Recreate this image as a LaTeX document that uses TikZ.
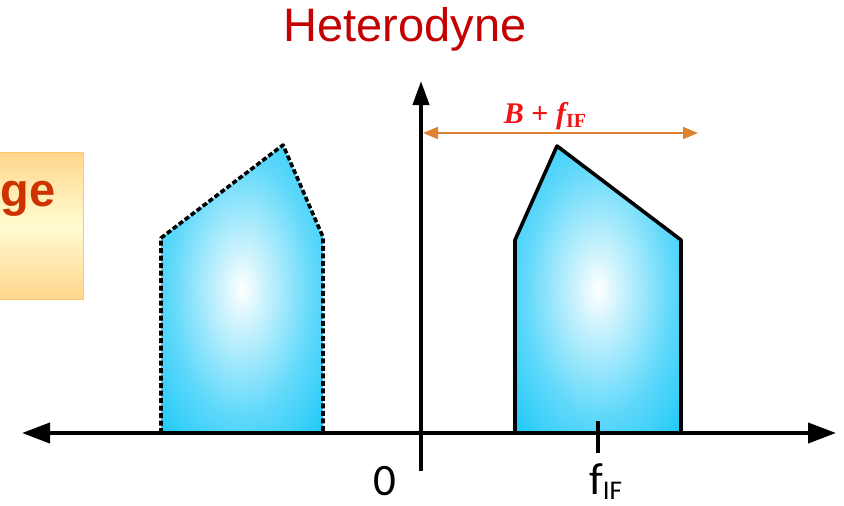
\documentclass[tikz,border=0pt]{standalone}
\usepackage{fontspec}
\setmainfont{Liberation Sans}
\newfontfamily\carlito{Carlito}
\newfontfamily\tnr{Liberation Serif}
\usetikzlibrary{arrows.meta}
\definecolor{titlered}{RGB}{196,0,0}
\definecolor{gered}{RGB}{204,51,0}
\definecolor{boxorange}{RGB}{255,214,140}
\definecolor{boxyellow}{RGB}{255,252,208}
\definecolor{boxedge}{RGB}{255,200,110}
\definecolor{cyanfill}{RGB}{28,200,248}
\definecolor{arrorange}{RGB}{222,130,50}
\definecolor{labred}{RGB}{240,20,20}
\pgfdeclareradialshading{glow}{\pgfpoint{0bp}{0bp}}{color(0bp)=(white); color(6bp)=(cyanfill!20); color(22bp)=(cyanfill!70); color(36bp)=(cyanfill); color(50bp)=(cyanfill)}
\tikzset{
  band/.style={shading=glow, line width=3.6pt, line join=round},
  axis/.style={line width=4pt, -{Triangle[length=28pt,width=20pt]}},
  lbl/.style={inner sep=0pt, font=\carlito\fontsize{45}{45}\selectfont},
}
\begin{document}
\begin{tikzpicture}[x=1pt,y=-1pt]
\useasboundingbox (0,0) rectangle (844,506);
% title
\node[inner sep=0pt, anchor=base, text=titlered, font=\fontsize{47}{47}\selectfont] (title) at (405,41) {Heterodyne};
% left box
\shade[top color=boxorange, bottom color=boxorange, middle color=boxyellow, draw=boxedge, line width=1pt] (-5,152) rectangle (83,299);
\node[inner sep=0pt, anchor=base east, text=gered, font=\bfseries\fontsize{47}{47}\selectfont] (ge) at (56,206) {ge};
% bands
\shade[band, draw=black, dash pattern=on 5pt off 2.5pt] (161,433) -- (161,238) -- (283,145) -- (323,237) -- (323,433) -- cycle;
\shade[band, draw=black] (515,433) -- (515,240) -- (557,146) -- (681,240) -- (681,433) -- cycle;
% axes
\coordinate (xl) at (22,433);
\coordinate (xr) at (836,433);
\coordinate (yb) at (421,471);
\coordinate (yt) at (421,81);
\coordinate (mid) at (429,433);
\draw[axis] (mid) -- (xl);
\draw[axis] (mid) -- (xr);
\draw[line width=4pt, -{Triangle[length=24pt,width=16pt]}] (yb) -- (yt);
% tick f_IF
\coordinate (tt) at (598,421);
\coordinate (tb) at (598,453);
\draw[line width=4pt] (tt) -- (tb);
% labels
\node[lbl, anchor=base] (zero) at (385,495) {0};
\node[lbl, anchor=base west] (fif) at (589,494) {f\raisebox{-5pt}{\fontsize{27}{27}\selectfont IF}};
% B + f_IF arrow
\coordinate (bl) at (423,133);
\coordinate (br) at (698,133);
\draw[arrorange, line width=1.8pt, {Triangle[length=15pt,width=12pt]}-{Triangle[length=15pt,width=12pt]}] (bl) -- (br);
\node[inner sep=0pt, anchor=base, text=labred, font=\tnr\bfseries\fontsize{30}{30}\selectfont] (blab) at (545,123) {\itshape B \upshape+ \itshape f\raisebox{-4pt}{\upshape\fontsize{20}{20}\selectfont IF}};
\end{tikzpicture}
\end{document}
